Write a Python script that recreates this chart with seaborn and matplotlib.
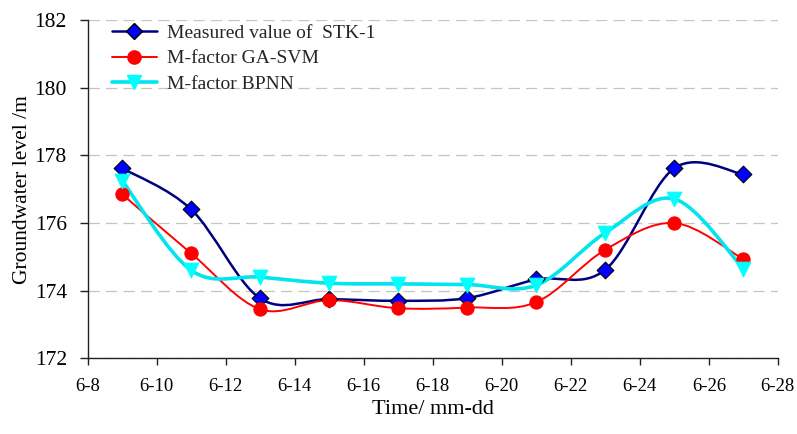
import matplotlib
matplotlib.use("Agg")
import matplotlib.pyplot as plt
import numpy as np
import pandas as pd
import seaborn as sns
from matplotlib.lines import Line2D
from matplotlib.patches import PathPatch
from matplotlib.path import Path

days = [9, 11, 13, 15, 17, 19, 21, 23, 25, 27]
measured = [177.62, 176.40, 173.77, 173.75, 173.70, 173.78, 174.33, 174.62, 177.62, 177.44]
ga_svm = [176.85, 175.10, 173.45, 173.72, 173.48, 173.50, 173.66, 175.21, 176.00, 174.93]
bpnn = [177.25, 174.60, 174.40, 174.22, 174.20, 174.18, 174.16, 175.71, 176.71, 174.65]

xticks = list(range(8, 29, 2))
xtick_labels = [f"6-{d}" for d in xticks]

series = [
    ("Measured value of  STK-1", measured, "#000080", 1.8, "D", "#0000FF", "black", 8.5),
    ("M-factor GA-SVM", ga_svm, "#FF0000", 1.4, "o", "#FF0000", "#FF0000", 9.5),
    ("M-factor BPNN", bpnn, "#00E5EE", 2.6, "v", "#00FFFF", "#00FFFF", 10.5),
]

sns.set_theme(style="white")
plt.rcParams["font.family"] = ["Liberation Serif", "DejaVu Serif"]


def smooth_path(x, y):
    # excel-like smoothed line: cubic bezier with catmull-rom control points
    x = np.asarray(x, float)
    y = np.asarray(y, float)
    verts = [(x[0], y[0])]
    codes = [Path.MOVETO]
    n = len(x)
    for i in range(n - 1):
        x0, y0 = (x[i - 1], y[i - 1]) if i > 0 else (x[i], y[i])
        x3, y3 = (x[i + 2], y[i + 2]) if i + 2 < n else (x[i + 1], y[i + 1])
        c1 = (x[i] + (x[i + 1] - x0) / 6, y[i] + (y[i + 1] - y0) / 6)
        c2 = (x[i + 1] - (x3 - x[i]) / 6, y[i + 1] - (y3 - y[i]) / 6)
        verts += [c1, c2, (x[i + 1], y[i + 1])]
        codes += [Path.CURVE4] * 3
    return Path(verts, codes)


fig = plt.figure(figsize=(7.97, 4.34), dpi=100)
ax = fig.add_axes([0.110, 0.1744, 0.866, 0.7795])

handles = []
for label, values, lc, lw, mk, mfc, mec, ms in series:
    ax.add_patch(PathPatch(smooth_path(days, values), facecolor="none",
                           edgecolor=lc, lw=lw, zorder=2))
    df = pd.DataFrame({"day": days, "level": values})
    sns.scatterplot(data=df, x="day", y="level", marker=mk, s=ms ** 2,
                    color=mfc, edgecolor=mec, linewidth=0.8, ax=ax, zorder=3)
    handles.append(Line2D([], [], color=lc, lw=lw, marker=mk, markersize=ms,
                          markerfacecolor=mfc, markeredgecolor=mec))

ax.set_xlim(8, 28)
ax.set_ylim(172, 182)
ax.set_xticks(xticks)
ax.set_xticklabels(xtick_labels)
ax.set_yticks(range(172, 183, 2))
ax.yaxis.grid(True, color="#C4C4C4", linestyle=(0, (9, 5)), lw=0.9)
ax.xaxis.grid(False)
for side in ["top", "right"]:
    ax.spines[side].set_visible(False)
for side in ["left", "bottom"]:
    ax.spines[side].set_color("#222222")
    ax.spines[side].set_linewidth(1.0)
ax.tick_params(axis="both", direction="out", width=1, color="#222222",
               labelcolor="black", bottom=True, left=True)
ax.tick_params(axis="x", length=5, pad=9, labelsize=13.5)
ax.tick_params(axis="y", length=6, pad=9, labelsize=15.5)
ax.set_xlabel("Time/ mm-dd", fontsize=16, color="black", labelpad=4)
ax.set_ylabel("Groundwater level /m", fontsize=15.5, color="black", labelpad=2)

ax.legend(handles, [s[0] for s in series], loc="upper left",
          bbox_to_anchor=(0.01, 1.04), frameon=False, fontsize=14,
          handlelength=2.3, labelspacing=0.42, handletextpad=0.55)

fig.savefig("out.png", dpi=100)
